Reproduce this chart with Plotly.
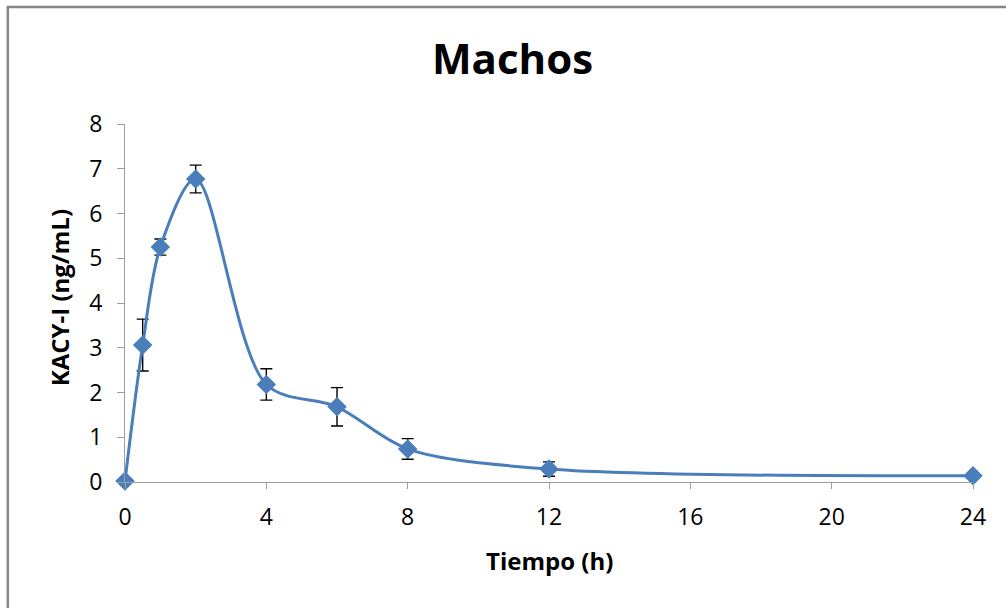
import plotly.graph_objects as go

# Sampling times (h) and mean KACY-I concentration (ng/mL) with error
tiempo = [0, 0.5, 1, 2, 4, 6, 8, 12, 24]
kacy = [0.02, 3.06, 5.25, 6.77, 2.18, 1.68, 0.74, 0.29, 0.14]
error = [0.0, 0.58, 0.18, 0.31, 0.35, 0.43, 0.23, 0.16, 0.03]

x_ticks = [0, 4, 8, 12, 16, 20, 24]
y_ticks = [0, 1, 2, 3, 4, 5, 6, 7, 8]

BLUE = "#4A7EBB"
AXIS = "#9D9D9D"
FONT = "Open Sans"

fig = go.Figure()

# Error bars (drawn first so the curve and markers sit on top)
fig.add_trace(go.Scatter(
    x=tiempo, y=kacy, mode="markers",
    marker=dict(size=1, opacity=0),
    error_y=dict(type="data", array=error, visible=True,
                 color="black", thickness=1.4, width=6),
    hoverinfo="skip", showlegend=False, cliponaxis=False,
))

# Smoothed concentration curve with diamond markers
fig.add_trace(go.Scatter(
    x=tiempo, y=kacy, mode="lines+markers",
    line=dict(color=BLUE, width=3, shape="spline", smoothing=0.9),
    marker=dict(symbol="diamond", size=15, color=BLUE),
    showlegend=False, cliponaxis=False,
))

fig.update_layout(
    width=1006, height=608,
    margin=dict(l=125, r=33, t=124, b=126),
    paper_bgcolor="white", plot_bgcolor="white",
    font=dict(family=FONT, color="black", size=23),
    title=dict(text="<b>Machos</b>", font=dict(family=FONT, size=42, color="black"),
               x=512.5 / 1006, xref="container", xanchor="center",
               y=1 - 59 / 608, yref="container", yanchor="middle"),
    xaxis=dict(range=[0, 24], tickvals=x_ticks, ticks="outside", ticklen=6,
               tickcolor=AXIS, showline=True, linecolor=AXIS, linewidth=1.2,
               showgrid=False, zeroline=False, tickfont=dict(size=23),
               ticklabelstandoff=8),
    yaxis=dict(range=[0, 8], tickvals=y_ticks, ticks="outside", ticklen=7,
               tickcolor=AXIS, showline=True, linecolor=AXIS, linewidth=1.2,
               showgrid=False, zeroline=False, tickfont=dict(size=23),
               ticklabelstandoff=10),
    annotations=[
        dict(text="<b>Tiempo (h)</b>", xref="paper", yref="paper",
             x=0.5, y=-0.2186, xanchor="center", yanchor="middle",
             showarrow=False, font=dict(size=24)),
        dict(text="<b>KACY-I (ng/mL)</b>", xref="paper", yref="paper",
             x=-0.0763, y=0.514, xanchor="center", yanchor="middle",
             textangle=-90, showarrow=False, font=dict(size=24)),
    ],
    shapes=[
        # chart-area frame
        dict(type="rect", xref="paper", yref="paper",
             x0=-0.1382, y0=-0.7, x1=1.2, y1=1.327,
             line=dict(color="#868686", width=2.5), layer="below"),
    ],
)

fig.write_html("out.html")
